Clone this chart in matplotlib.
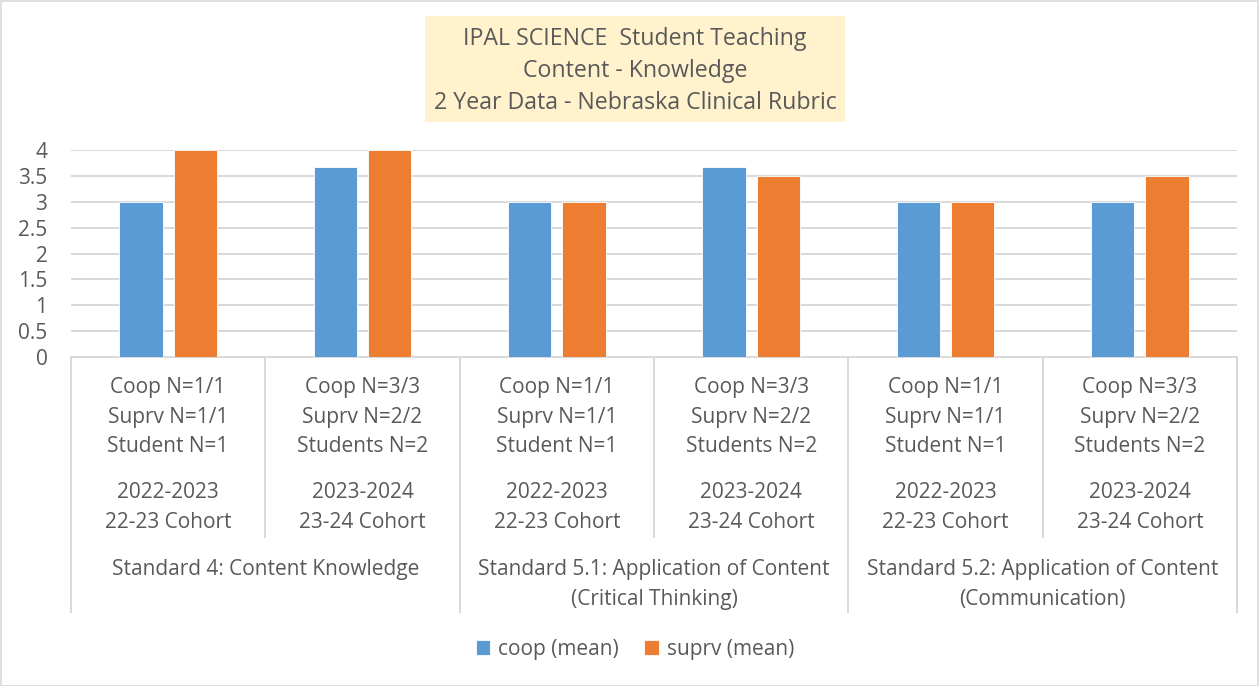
import matplotlib
matplotlib.use("Agg")
import matplotlib.pyplot as plt
from matplotlib.patches import Rectangle
from matplotlib.transforms import blended_transform_factory

plt.rcParams['font.family'] = ['Open Sans', 'DejaVu Sans']

# ---- data ----
title_lines = ["IPAL SCIENCE  Student Teaching", "Content - Knowledge",
               "2 Year Data - Nebraska Clinical Rubric"]
n_labels = [
    ["Coop N=1/1", "Suprv N=1/1", "Student N=1"],
    ["Coop N=3/3", "Suprv N=2/2", "Students N=2"],
    ["Coop N=1/1", "Suprv N=1/1", "Student N=1"],
    ["Coop N=3/3", "Suprv N=2/2", "Students N=2"],
    ["Coop N=1/1", "Suprv N=1/1", "Student N=1"],
    ["Coop N=3/3", "Suprv N=2/2", "Students N=2"],
]
year_labels = [
    ["2022-2023", "22-23 Cohort"],
    ["2023-2024", "23-24 Cohort"],
    ["2022-2023", "22-23 Cohort"],
    ["2023-2024", "23-24 Cohort"],
    ["2022-2023", "22-23 Cohort"],
    ["2023-2024", "23-24 Cohort"],
]
group_labels = [
    ["Standard 4: Content Knowledge"],
    ["Standard 5.1: Application of Content", "(Critical Thinking)"],
    ["Standard 5.2: Application of Content", "(Communication)"],
]
coop_mean = [3.0, 3.667, 3.0, 3.667, 3.0, 3.0]
suprv_mean = [4.0, 4.0, 3.0, 3.5, 3.0, 3.5]
series_names = ["coop (mean)", "suprv (mean)"]
yticks = [0, 0.5, 1, 1.5, 2, 2.5, 3, 3.5, 4]
ytick_labels = ["0", "0.5", "1", "1.5", "2", "2.5", "3", "3.5", "4"]

# ---- layout ----
W, H = 1259, 686
fig = plt.figure(figsize=(W / 100, H / 100), dpi=100)
fig.patch.set_facecolor("white")
fig.patches.append(Rectangle((0.5 / W, 0.5 / H), 1 - 1.5 / W, 1 - 1.5 / H,
                             transform=fig.transFigure, fill=False,
                             edgecolor="#D9D9D9", linewidth=1.2))

ax_l, ax_r, ax_t, ax_b = 71, 1237, 150, 357
ax = fig.add_axes([ax_l / W, 1 - ax_b / H, (ax_r - ax_l) / W, (ax_b - ax_t) / H])

BLUE = "#5B9BD5"
ORANGE = "#ED7D31"
TXT = "#595959"
GRID = "#D9D9D9"

n = len(coop_mean)
x = [i + 0.5 for i in range(n)]
bw = 0.222
off = 0.140
ax.bar([v - off for v in x], coop_mean, width=bw, color=BLUE, edgecolor="white",
       linewidth=0.6, zorder=3, label=series_names[0])
ax.bar([v + off for v in x], suprv_mean, width=bw, color=ORANGE, edgecolor="white",
       linewidth=0.6, zorder=3, label=series_names[1])

fs = 15

ax.set_xlim(0, n)
ax.set_ylim(0, 4)
ax.set_yticks(yticks)
ax.set_yticklabels(ytick_labels, fontsize=fs, color=TXT)
ax.tick_params(axis="y", length=0, pad=17)
ax.set_xticks([])
ax.grid(axis="y", color=GRID, linewidth=1.4, zorder=0)
for s in ["top", "right", "left"]:
    ax.spines[s].set_visible(False)
ax.spines["bottom"].set_color(GRID)
ax.spines["bottom"].set_linewidth(1.4)

tr = blended_transform_factory(ax.transData, ax.transAxes)
hpx = ax_b - ax_t


def ay(py):
    return (ax_b - py) / hpx


# separators
for i in range(n + 1):
    y_end = 612 if i % 2 == 0 else 537
    ax.plot([i, i], [0, ay(y_end)], transform=tr, color=GRID, linewidth=1.4,
            clip_on=False, zorder=1)

for i in range(n):
    for j, line in enumerate(n_labels[i]):
        ax.text(x[i], ay(388 + 29 * j), line, transform=tr, ha="center", va="center",
                fontsize=fs, color=TXT)
    for j, line in enumerate(year_labels[i]):
        ax.text(x[i], ay(493 + 29 * j), line, transform=tr, ha="center", va="center",
                fontsize=fs, color=TXT)
for g in range(len(group_labels)):
    for j, line in enumerate(group_labels[g]):
        ax.text(2 * g + 1, ay(570 + 29 * j), line, transform=tr, ha="center", va="center",
                fontsize=fs, color=TXT)

# title box
fig.patches.append(Rectangle((425 / W, 1 - 122 / H), 420 / W, 106 / H,
                             transform=fig.transFigure, facecolor="#FFF2CC",
                             edgecolor="none", zorder=0))
for j, line in enumerate(title_lines):
    fig.text(635 / W, 1 - (39 + 32 * j) / H, line, ha="center", va="center",
             fontsize=16.7, color=TXT)

# legend
leg = fig.legend(loc="center", bbox_to_anchor=(635 / W, 1 - 649 / H), ncol=2,
                 frameon=False, fontsize=fs, handlelength=0.7, handleheight=0.7,
                 columnspacing=1.2, handletextpad=0.4)
for t in leg.get_texts():
    t.set_color(TXT)

fig.savefig("out.png", dpi=100)
